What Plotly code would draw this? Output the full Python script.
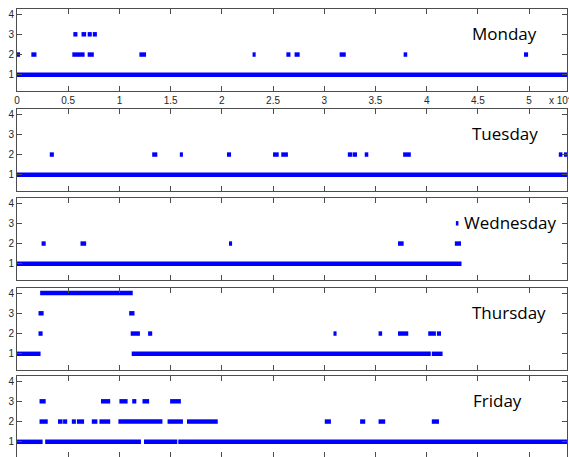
import plotly.graph_objects as go

# ---- data: activity level segments (start, end, level) per weekday ----
days = ["Monday", "Tuesday", "Wednesday", "Thursday", "Friday"]

mon_start = [0, 0, 1400, 5400, 6900, 11950, 23000, 26300, 27100, 31500, 37750, 49500,
             5500, 6300, 6900, 7400]
mon_end = [53700, 300, 1900, 6600, 7500, 12600, 23300, 26700, 27600, 32100, 38100, 49900,
           5900, 6750, 7300, 7800]
mon_level = [1, 2, 2, 2, 2, 2, 2, 2, 2, 2, 2, 2,
             3, 3, 3, 3]

tue_start = [0, 3200, 13200, 15900, 20500, 25000, 25800, 32300, 32800, 33950, 37700, 52900, 53400]
tue_end = [53700, 3600, 13700, 16200, 20900, 25550, 26450, 32750, 33200, 34300, 38450, 53250, 53700]
tue_level = [1, 2, 2, 2, 2, 2, 2, 2, 2, 2, 2, 2, 2]

wed_start = [0, 2400, 6200, 20700, 37200, 42750, 42850]
wed_end = [43400, 2800, 6750, 21000, 37750, 43350, 43100]
wed_level = [1, 2, 2, 2, 2, 2, 3]

thu_start = [0, 11200, 40500, 2100, 11100, 12800, 30900, 35300, 37200, 40150, 41000,
             2100, 10950, 2260]
thu_end = [2300, 40400, 41550, 2500, 12000, 13200, 31200, 35650, 38200, 40900, 41400,
           2600, 11470, 11300]
thu_level = [1, 1, 1, 2, 2, 2, 2, 2, 2, 2, 2,
             3, 3, 4]

fri_start = [0, 2750, 12400, 15750,
             2200, 4000, 4500, 5350, 5850, 7300, 8050, 9900, 14700, 16600, 30050, 33500, 35300, 40500,
             2200, 8200, 10000, 11250, 12250, 14950]
fri_end = [2500, 12100, 15650, 53700,
           3000, 4450, 4900, 5750, 6550, 7850, 9100, 14200, 16200, 19600, 30650, 34000, 35950, 41200,
           2800, 9100, 10800, 11650, 12900, 16000]
fri_level = [1, 1, 1, 1,
             2, 2, 2, 2, 2, 2, 2, 2, 2, 2, 2, 2, 2, 2,
             3, 3, 3, 3, 3, 3]

x_tickvals = [0, 5000, 10000, 15000, 20000, 25000, 30000, 35000, 40000, 45000, 50000]
x_ticktext = ["0", "0.5", "1", "1.5", "2", "2.5", "3", "3.5", "4", "4.5", "5"]
y_tickvals = [1, 2, 3, 4]
label_x = [44200, 44200, 43400, 44200, 44300]

series = [
    (mon_start, mon_end, mon_level),
    (tue_start, tue_end, tue_level),
    (wed_start, wed_end, wed_level),
    (thu_start, thu_end, thu_level),
    (fri_start, fri_end, fri_level),
]

# ---- layout geometry (pixels) ----
W, H = 569, 457
ML, MR = 17, 2
box_top = [9, 109, 198, 288, 376]
box_bot = [91, 191, 280, 370, 457]
y_ranges = [[0.2, 4.25]] * 4 + [[0.25, 4.25]]

axis_col = "#4d4d4d"
tick_font = dict(family="Liberation Sans, Arial, sans-serif", size=10, color="#262626")

fig = go.Figure()
layout = dict(
    width=W, height=H,
    margin=dict(l=ML, r=MR, t=0, b=0, pad=0, autoexpand=False),
    paper_bgcolor="white", plot_bgcolor="white",
    showlegend=False, barmode="overlay",
    annotations=[],
)

for i, (s, e, lv) in enumerate(series):
    n = i + 1
    xa = "x" if n == 1 else f"x{n}"
    ya = "y" if n == 1 else f"y{n}"
    fig.add_trace(go.Bar(
        orientation="h",
        base=s,
        x=[b - a for a, b in zip(s, e)],
        y=lv,
        width=0.22,
        marker=dict(color="#0000FF", line=dict(width=0)),
        xaxis=xa, yaxis=ya,
        hoverinfo="skip",
    ))
    dom = [1 - box_bot[i] / H, 1 - box_top[i] / H]
    layout["xaxis" if n == 1 else f"xaxis{n}"] = dict(
        domain=[0, 1], anchor=ya, range=[0, 53700],
        tickvals=x_tickvals, ticktext=x_ticktext,
        showticklabels=(n == 1), automargin=False,
        ticks="inside", ticklen=5, tickcolor=axis_col,
        showline=True, linecolor=axis_col, linewidth=1, mirror="ticks",
        showgrid=False, zeroline=False, tickfont=tick_font,
    )
    layout["yaxis" if n == 1 else f"yaxis{n}"] = dict(
        domain=dom, anchor=xa, range=y_ranges[i],
        tickvals=y_tickvals, automargin=False,
        ticks="inside", ticklen=5, tickcolor=axis_col,
        showline=True, linecolor=axis_col, linewidth=1, mirror="ticks",
        showgrid=False, zeroline=False, tickfont=tick_font,
    )
    layout["annotations"].append(dict(
        text=days[i], x=label_x[i], y=3, xref=xa, yref=ya, yshift=1,
        xanchor="left", yanchor="middle", showarrow=False,
        font=dict(family="Open Sans, sans-serif", size=17, color="black"),
    ))

layout["annotations"].append(dict(
    text="x 10<sup>4</sup>", x=(547 - ML) / (W - ML - MR), y=1 - 100 / H,
    xref="paper", yref="paper", xanchor="left", yanchor="middle",
    showarrow=False, font=tick_font,
))

fig.update_layout(**layout)
fig.write_html(
    "out.html",
    config={"displayModeBar": False},
    post_script="document.body.style.margin='0';document.body.style.overflow='hidden';",
)
